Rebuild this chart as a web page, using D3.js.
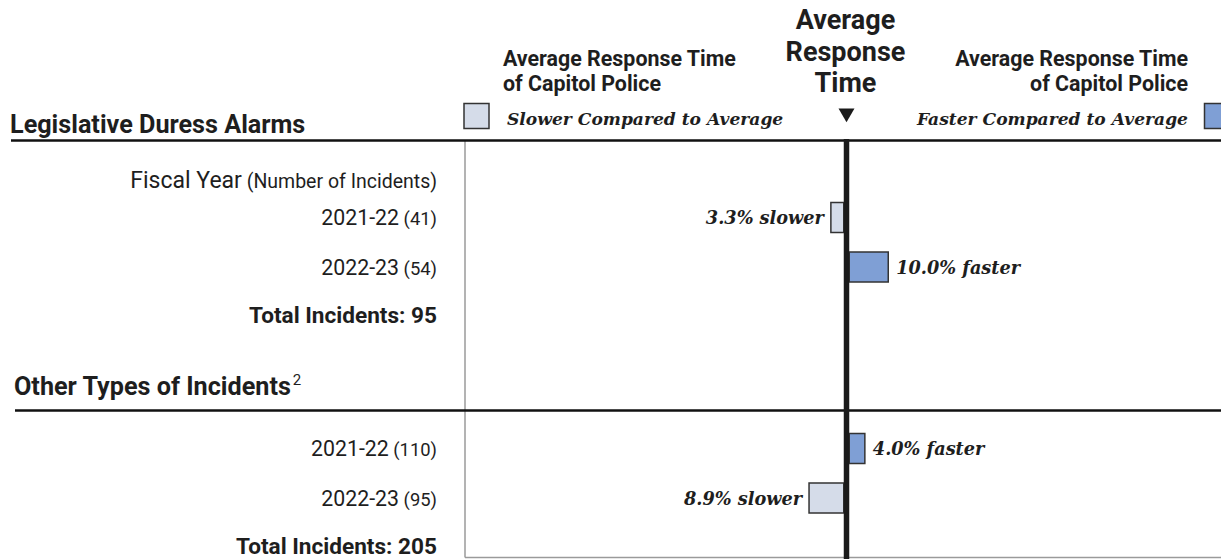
<!DOCTYPE html>
<html>
<head>
<meta charset="utf-8">
<script src="https://cdn.jsdelivr.net/npm/d3@7"></script>
<style>
  html, body { margin: 0; padding: 0; background: #fff; }
  svg { display: block; }
  .sans { font-family: Roboto, "Noto Sans", sans-serif; fill: #1e1e1e; }
  .serif { font-family: "DejaVu Serif", serif; font-style: italic; font-weight: bold; fill: #1e1e1e; }
</style>
</head>
<body>
<svg id="chart" width="1221" height="559"></svg>
<script>
// Response time of Capitol Police relative to the average, by incident type and fiscal year
const sectionTitles = ["Legislative Duress Alarms", "Other Types of Incidents"];
const sectionNotes = ["", "2"];
const fiscalYears = ["2021-22", "2022-23"];
const incidentCounts = [[41, 54], [110, 95]];
// positive = faster than average, negative = slower than average (percent)
const percentDiff = [[-3.3, 10.0], [4.0, -8.9]];
const totalIncidents = [95, 205];

const W = 1221, H = 559;
const svg = d3.select("#chart");

const centerX = 846.5;
const centerW = 5.5;
const plotLeft = 465;

// magnitude of difference -> bar length in px
const len = d3.scaleLinear().domain([0, 10]).range([0, 39]);

// rows inside each section
const rowKeys = [...fiscalYears, "Total"];
const rowY = d3.scalePoint().domain(rowKeys).range([0, 99]);
const sectionTop = d3.scaleOrdinal().domain(sectionTitles).range([217.5, 448.5]);
const ruleY = [140.5, 410.5];
const titleY = [132.5, 394.5];
const barH = 30;

const colors = { slower: "#d5dce9", faster: "#7f9fd5" };

// plot frame
svg.append("line").attr("x1", plotLeft).attr("x2", plotLeft).attr("y1", 141).attr("y2", 557.5)
  .attr("stroke", "#9a9a9a").attr("stroke-width", 1.5);
svg.append("line").attr("x1", plotLeft).attr("x2", W).attr("y1", 557.5).attr("y2", 557.5)
  .attr("stroke", "#9a9a9a").attr("stroke-width", 1.5);

// section rules
const ruleStart = [11, 15];
ruleY.forEach((y, i) => {
  svg.append("line").attr("x1", ruleStart[i]).attr("x2", W).attr("y1", y).attr("y2", y)
    .attr("stroke", "#111").attr("stroke-width", 2.5);
});

// section titles
sectionTitles.forEach((t, i) => {
  const txt = svg.append("text").attr("class", "sans")
    .attr("x", ruleStart[i] - 1).attr("y", titleY[i])
    .attr("font-size", 25.2).attr("font-weight", "bold").text(t);
  if (sectionNotes[i]) {
    txt.append("tspan").attr("font-size", 15).attr("font-weight", "normal")
      .attr("dx", 2).attr("dy", -10).text(sectionNotes[i]);
  }
});

// row header
const labelX = 437;
const fy = svg.append("text").attr("class", "sans").attr("x", labelX).attr("y", 187.5)
  .attr("text-anchor", "end").attr("font-size", 23).text("Fiscal Year");
fy.append("tspan").attr("font-size", 19.5).text(" (Number of Incidents)");

// row labels, bars and value labels
sectionTitles.forEach((sec, si) => {
  const base = sectionTop(sec);
  fiscalYears.forEach((yr, ri) => {
    const cy = base + rowY(yr);
    const t = svg.append("text").attr("class", "sans").attr("x", labelX).attr("y", cy + 7.5)
      .attr("text-anchor", "end").attr("font-size", 21.3).text(yr);
    t.append("tspan").attr("font-size", 18.4).text(` (${incidentCounts[si][ri]})`);

    const v = percentDiff[si][ri];
    const slower = v < 0;
    const w = len(Math.abs(v));
    const x0 = slower ? centerX - centerW / 2 - w : centerX + centerW / 2;
    svg.append("rect").attr("x", x0).attr("y", cy - barH / 2).attr("width", w).attr("height", barH)
      .attr("fill", slower ? colors.slower : colors.faster)
      .attr("stroke", "#333").attr("stroke-width", 1.5);
    svg.append("text").attr("class", "serif")
      .attr("x", slower ? x0 - 7 : x0 + w + 8).attr("y", cy + 6.5)
      .attr("text-anchor", slower ? "end" : "start").attr("font-size", 17.7)
      .text(`${Math.abs(v).toFixed(1)}% ${slower ? "slower" : "faster"}`);
  });
  svg.append("text").attr("class", "sans").attr("x", labelX).attr("y", base + rowY("Total") + 6)
    .attr("text-anchor", "end").attr("font-size", 22.6).attr("font-weight", "bold")
    .text(`Total Incidents: ${totalIncidents[si]}`);
});

// average reference line
svg.append("line").attr("x1", centerX).attr("x2", centerX).attr("y1", 139).attr("y2", H)
  .attr("stroke", "#1a1a1a").attr("stroke-width", centerW);

// center heading
["Average", "Response", "Time"].forEach((s, i) => {
  svg.append("text").attr("class", "sans").attr("x", centerX - 1).attr("y", 29 + i * 31.5)
    .attr("text-anchor", "middle").attr("font-size", 27).attr("font-weight", "bold").text(s);
});
svg.append("path")
  .attr("d", d3.symbol().type(d3.symbolTriangle).size(110)())
  .attr("transform", `translate(${centerX},${113}) rotate(180)`)
  .attr("fill", "#1a1a1a");

// legend headers
const headLines = ["Average Response Time", "of Capitol Police"];
headLines.forEach((s, i) => {
  svg.append("text").attr("class", "sans").attr("x", 503).attr("y", 65.5 + i * 25)
    .attr("font-size", 21.4).attr("font-weight", "bold").text(s);
  svg.append("text").attr("class", "sans").attr("x", 1188).attr("y", 65.5 + i * 25)
    .attr("text-anchor", "end").attr("font-size", 21.4).attr("font-weight", "bold").text(s);
});
svg.append("rect").attr("x", 464).attr("y", 103.5).attr("width", 25).attr("height", 25)
  .attr("fill", colors.slower).attr("stroke", "#333").attr("stroke-width", 1.5);
svg.append("rect").attr("x", 1204.5).attr("y", 103.5).attr("width", 25).attr("height", 25)
  .attr("fill", colors.faster).attr("stroke", "#333").attr("stroke-width", 1.5);
svg.append("text").attr("class", "serif").attr("x", 507).attr("y", 125)
  .attr("font-size", 17.1).text("Slower Compared to Average");
svg.append("text").attr("class", "serif").attr("x", 1188).attr("y", 125)
  .attr("text-anchor", "end").attr("font-size", 17.1).text("Faster Compared to Average");
</script>
</body>
</html>
